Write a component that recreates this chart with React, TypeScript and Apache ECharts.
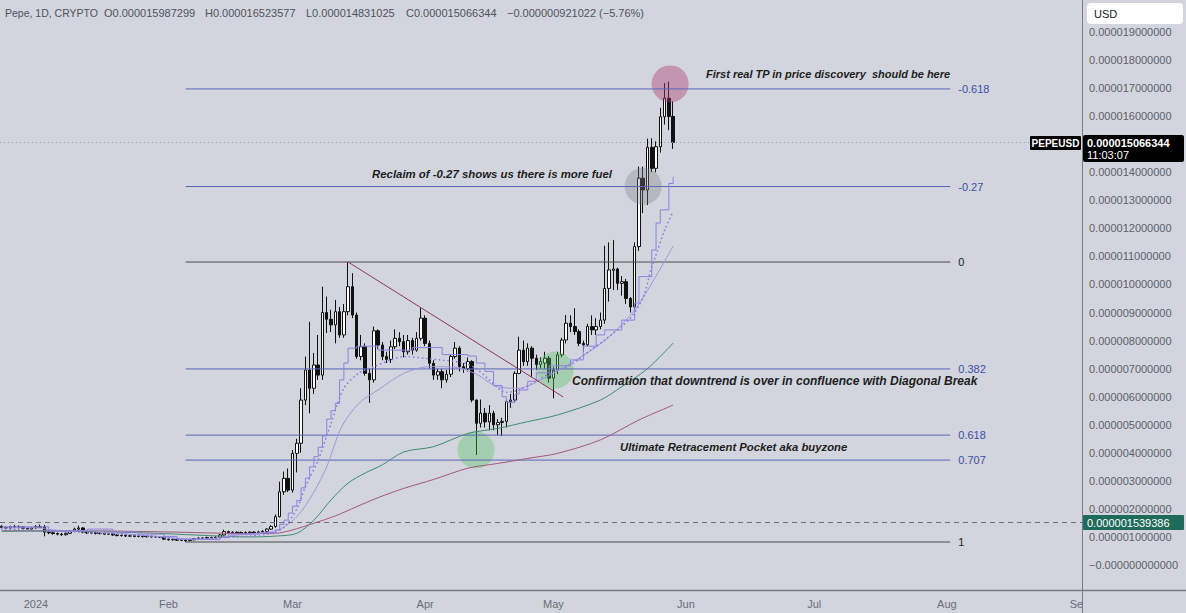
import React, { useEffect, useRef } from "react";
import * as echarts from "echarts";

const DAY = 86400000;
const JAN1 = Date.UTC(2024, 0, 1);
const t = (d: number) => JAN1 + d * DAY; // d = days from 2024-01-01
const FIRST_CANDLE_DAY = -8; // 2023-12-24

// Prices are in micro-USD (1 = 0.000001 USD). [open, close, low, high]
const ohlc: number[][] = [
  [1.38, 1.34, 1.31, 1.42], [1.34, 1.32, 1.28, 1.38], [1.32, 1.37, 1.29, 1.40], [1.37, 1.35, 1.31, 1.43],
  [1.35, 1.36, 1.30, 1.41], [1.36, 1.31, 1.28, 1.39], [1.31, 1.28, 1.25, 1.34], [1.28, 1.33, 1.25, 1.36],
  // 2024-01-01
  [1.33, 1.37, 1.29, 1.42], [1.37, 1.35, 1.32, 1.44], [1.35, 1.17, 1.02, 1.43], [1.17, 1.15, 1.10, 1.22],
  [1.15, 1.12, 1.08, 1.19], [1.12, 1.10, 1.06, 1.16], [1.10, 1.08, 1.04, 1.14], [1.08, 1.13, 1.05, 1.16],
  [1.13, 1.20, 1.10, 1.24], [1.20, 1.28, 1.17, 1.33], [1.28, 1.32, 1.22, 1.40], [1.32, 1.17, 1.13, 1.35],
  [1.16, 1.14, 1.11, 1.19], [1.14, 1.15, 1.11, 1.18], [1.15, 1.12, 1.09, 1.17], [1.12, 1.13, 1.09, 1.16],
  [1.13, 1.10, 1.07, 1.15], [1.10, 1.11, 1.07, 1.14], [1.11, 1.07, 1.04, 1.13], [1.07, 1.05, 1.02, 1.10],
  [1.05, 1.06, 1.01, 1.09], [1.06, 1.03, 1.00, 1.08], [1.03, 1.04, 1.00, 1.07], [1.04, 1.02, 0.99, 1.06],
  [1.02, 1.03, 0.99, 1.06], [1.03, 1.01, 0.98, 1.05], [1.01, 1.02, 0.98, 1.05], [1.02, 1.00, 0.97, 1.04],
  [1.00, 1.01, 0.97, 1.04], [1.01, 0.99, 0.96, 1.03], [0.99, 0.92, 0.90, 1.00],
  // 2024-02-01
  [0.92, 0.90, 0.87, 0.94], [0.90, 0.91, 0.87, 0.94], [0.91, 0.88, 0.86, 0.93], [0.88, 0.89, 0.85, 0.92],
  [0.89, 0.87, 0.82, 0.91], [0.87, 0.90, 0.85, 0.93], [0.90, 0.94, 0.88, 0.96], [0.94, 0.96, 0.92, 0.99],
  [0.96, 0.95, 0.93, 0.99], [0.95, 0.98, 0.93, 1.01], [0.98, 0.97, 0.94, 1.01], [0.97, 0.99, 0.95, 1.02],
  [0.99, 1.07, 0.97, 1.10], [1.07, 1.19, 1.05, 1.26], [1.19, 1.15, 1.12, 1.22], [1.15, 1.17, 1.13, 1.20],
  [1.17, 1.14, 1.12, 1.19], [1.14, 1.16, 1.12, 1.19], [1.16, 1.15, 1.12, 1.20], [1.15, 1.17, 1.13, 1.20],
  [1.17, 1.15, 1.12, 1.21], [1.15, 1.18, 1.13, 1.22], [1.18, 1.20, 1.15, 1.24], [1.20, 1.28, 1.17, 1.31],
  [1.28, 1.37, 1.25, 1.42], [1.37, 1.72, 1.33, 1.80], [1.72, 2.61, 1.70, 2.97], [2.61, 3.09, 2.50, 3.33],
  [3.09, 2.67, 2.60, 3.44],
  // 2024-03-01
  [2.67, 3.98, 2.58, 4.10], [3.98, 4.34, 3.30, 4.50], [4.34, 5.88, 4.00, 6.30], [5.88, 6.95, 5.70, 7.43],
  [6.95, 6.30, 5.41, 8.67], [6.30, 7.13, 6.10, 7.56], [7.13, 6.77, 6.60, 8.20], [6.77, 9.00, 6.60, 9.92],
  [9.00, 8.76, 8.27, 9.57], [8.76, 8.56, 8.30, 9.10], [8.56, 9.03, 7.90, 9.45], [9.03, 8.20, 8.10, 9.20],
  [8.20, 9.03, 8.10, 9.30], [9.03, 9.92, 8.90, 10.80], [9.92, 8.91, 8.80, 10.40], [8.91, 7.43, 7.35, 9.00],
  [7.43, 7.78, 7.30, 8.20], [7.78, 6.83, 6.75, 7.90], [6.83, 6.60, 5.78, 7.00], [6.60, 8.35, 6.50, 8.50],
  [8.35, 7.84, 7.70, 8.40], [7.84, 7.43, 7.30, 7.95], [7.43, 7.33, 7.20, 7.60], [7.33, 7.78, 7.20, 8.00],
  [7.78, 8.08, 7.70, 8.40], [8.08, 7.96, 7.80, 8.30], [7.96, 7.60, 7.40, 8.20], [7.60, 8.00, 7.50, 8.20],
  [8.00, 7.66, 7.50, 8.10], [7.66, 8.08, 7.60, 8.30], [8.08, 8.80, 8.00, 9.16],
  // 2024-04-01
  [8.80, 7.90, 7.80, 8.90], [7.90, 7.19, 7.00, 8.00], [7.19, 6.77, 6.60, 7.30], [6.77, 6.89, 6.60, 7.00],
  [6.89, 6.60, 6.30, 7.00], [6.60, 6.80, 6.50, 6.95], [6.80, 7.43, 6.70, 7.50], [7.43, 7.73, 7.35, 7.95],
  [7.73, 7.07, 6.90, 7.80], [7.07, 7.00, 6.85, 7.20], [7.00, 7.25, 6.90, 7.40], [7.25, 5.88, 5.80, 7.30],
  [5.88, 5.05, 3.92, 5.90], [5.05, 5.41, 4.90, 5.90], [5.41, 5.10, 4.90, 5.60], [5.10, 5.41, 4.80, 5.70],
  [5.41, 5.00, 4.80, 5.50], [5.00, 5.08, 4.63, 5.20], [5.08, 5.12, 4.60, 5.25], [5.12, 5.82, 4.90, 5.90],
  [5.82, 5.88, 5.60, 6.10], [5.88, 6.83, 5.80, 6.90], [6.83, 7.66, 6.80, 8.14], [7.66, 7.25, 7.10, 8.00],
  [7.25, 7.73, 7.10, 7.90], [7.73, 7.37, 6.71, 7.80], [7.37, 7.15, 6.95, 7.50], [7.15, 7.25, 7.00, 7.40],
  [7.20, 7.37, 7.00, 7.60], [7.37, 6.66, 6.50, 7.45],
  // 2024-05-01
  [6.66, 6.95, 5.94, 7.05], [6.95, 7.49, 6.80, 7.60], [7.49, 8.02, 7.40, 8.10], [8.02, 8.62, 7.90, 8.91],
  [8.62, 8.50, 8.30, 8.90], [8.50, 8.32, 8.20, 9.15], [8.32, 7.90, 7.80, 8.40], [7.90, 7.85, 7.60, 8.00],
  [7.85, 8.50, 7.80, 8.60], [8.50, 8.38, 8.20, 8.90], [8.38, 8.50, 8.20, 8.80], [8.50, 8.73, 8.40, 9.00],
  [8.73, 9.86, 8.60, 11.38], [9.86, 10.52, 9.39, 11.50], [10.50, 10.55, 9.80, 11.59], [10.55, 10.04, 9.80, 10.60],
  [10.04, 10.10, 9.60, 10.30], [10.10, 9.50, 9.30, 10.20], [9.50, 9.20, 9.00, 9.55], [9.20, 11.35, 9.10, 11.50],
  [11.35, 13.79, 11.20, 14.20], [13.79, 13.37, 12.54, 14.20], [13.37, 14.89, 12.83, 15.20], [14.89, 14.14, 14.00, 15.21],
  [14.14, 14.91, 14.00, 15.10], [14.91, 15.98, 14.70, 16.30], [15.98, 16.64, 15.70, 17.18], [16.64, 15.99, 15.50, 17.23],
  [15.987299, 15.066344, 14.831025, 16.523577],
];

// Indicator lines: [day from 2024-01-01, price]
const sma100Pts = [[-8, 1.22], [10, 1.22], [30, 1.18], [50, 1.12], [56, 1.13], [60, 1.25], [65, 1.49], [70, 1.75], [75, 2.08], [80, 2.40], [86, 2.73], [93, 3.05], [101, 3.45], [108, 3.62], [115, 3.80], [122, 3.98], [132, 4.46], [141, 5.17], [149, 5.70]];
const sma50Pts = [[-8, 1.20], [0, 1.21], [10, 1.20], [20, 1.17], [30, 1.12], [40, 1.05], [50, 1.00], [56, 1.03], [61, 1.13], [65, 1.60], [69, 2.32], [73, 2.92], [77, 3.28], [81, 3.57], [86, 4.03], [93, 4.22], [101, 4.69], [108, 4.87], [115, 5.11], [122, 5.35], [132, 5.88], [137, 6.36], [143, 7.00], [149, 7.91]];
const emaPts = [[-8, 1.32], [0, 1.33], [3, 1.27], [8, 1.20], [12, 1.22], [18, 1.15], [25, 1.06], [30, 1.00], [36, 0.92], [42, 0.95], [46, 1.05], [52, 1.13], [56, 1.22], [59, 1.45], [62, 1.90], [65, 2.60], [68, 3.50], [71.5, 4.93], [75.5, 5.76], [80, 6.24], [86, 6.83], [92, 7.07], [98, 7.05], [103, 6.80], [108, 6.35], [113, 6.30], [118, 6.60], [125, 7.19], [133, 8.00], [140, 9.09], [145, 10.30], [149, 11.37]];
const stepPts = [[-8, 1.36], [2, 1.36], [3, 1.22], [10, 1.22], [12, 1.28], [18, 1.18], [24, 1.10], [30, 1.02], [33, 0.92], [38, 0.90], [43, 0.98], [45, 1.10], [52, 1.15], [56, 1.25], [57, 1.45], [58, 1.60], [59, 1.85], [60, 2.10], [61, 2.30], [62, 2.75], [63, 3.10], [64, 3.50], [65, 3.86], [66, 4.20], [67, 4.60], [68, 5.20], [69, 5.50], [70, 5.76], [71, 6.60], [72, 7.20], [73, 7.73], [75, 7.80], [80, 7.66], [88, 7.75], [95, 7.50], [101, 7.45], [103, 7.20], [105, 6.90], [107, 6.40], [109, 6.00], [110, 5.80], [112, 6.10], [113, 6.24], [115, 6.55], [117, 6.85], [120, 7.10], [125, 7.31], [128, 7.80], [131, 8.20], [133, 8.38], [137, 8.73], [140, 9.34], [141, 10.28], [144, 11.23], [145, 12.19], [146, 12.66], [148, 13.60], [149, 13.84]];
const dotPts = [[-8, 1.28], [5, 1.20], [15, 1.14], [25, 1.05], [35, 0.92], [45, 0.98], [55, 1.12], [58, 1.35], [61, 2.00], [63, 2.79], [66, 3.74], [69, 5.05], [72, 6.30], [75.5, 6.84], [79, 7.07], [83, 7.31], [86, 7.43], [92, 7.35], [100, 7.20], [103, 7.00], [106, 6.60], [110, 6.15], [113, 6.25], [117, 6.55], [121, 6.90], [125, 7.13], [130, 7.70], [133, 8.02], [139, 8.80], [142, 9.55], [144, 10.64], [145, 11.05], [147, 11.94], [149, 12.60]];

const fibLevels = ["-0.618", "-0.27", "0", "0.382", "0.618", "0.707", "1"];
const fibPrices = [16.97, 13.49, 10.80, 6.99, 4.63, 3.74, 0.82];
const fibStartDay = 35;
const fibEndDay = 213.8;
const trendPts = [[73, 10.80], [123.3, 5.99]];
const circleDays = [148.3, 142, 121.4, 102.9];
const circlePrices = [17.15, 13.5, 6.95, 4.10];
const circleColors = ["rgba(176,52,112,0.5)", "rgba(128,128,140,0.42)", "rgba(80,195,95,0.45)", "rgba(80,195,95,0.45)"];
const lastPrice = 15.066344;
const priceLine2 = 1.539386;
const yTicks = [0, 1, 2, 3, 4, 5, 6, 7, 8, 9, 10, 11, 12, 13, 14, 15, 16, 17, 18, 19];
const MONTHS = ["Jan", "Feb", "Mar", "Apr", "May", "Jun", "Jul", "Aug", "Sep", "Oct", "Nov", "Dec"];

const BG = "#d2d5dd";
const FONT = '"Liberation Sans", Arial, sans-serif';

function txt(x: number, y: number, text: string, fill: string, font: string, align = "left") {
  return {
    type: "text", x, y, z: 100, silent: true,
    style: { text, fill, font, textAlign: align, textVerticalAlign: "middle", verticalAlign: "middle" },
  };
}

export default function App() {
  const ref = useRef<HTMLDivElement>(null);
  useEffect(() => {
    const chart = echarts.init(ref.current!, undefined, { renderer: "svg" });
    const toLine = (pts: number[][]) => pts.map((p) => [t(p[0]), p[1]]);
    const blue = "#5a66b6";
    const dark = "#4a4a4a";
    const fibSeries = fibLevels.map((lv, i) => {
      const isDark = lv === "0" || lv === "1";
      return {
        type: "line", silent: true, symbol: "none",
        data: [[t(fibStartDay), fibPrices[i]], [t(fibEndDay), fibPrices[i]]],
        lineStyle: { color: isDark ? dark : blue, width: 1 },
        endLabel: { show: true, formatter: lv, color: isDark ? "#222" : "#3d4ea8", fontSize: 11, distance: 8 },
      };
    });
    const lineS = (pts: number[][], color: string, extra: any = {}) => ({
      type: "line", silent: true, symbol: "none", data: toLine(pts),
      lineStyle: { color, width: 1 },
      ...extra,
    });
    const series: any[] = [
      ...fibSeries,
      lineS(sma100Pts, "#a3587a", { smooth: 0.3 }),
      lineS(sma50Pts, "#3f8c6e", { smooth: 0.3 }),
      lineS(emaPts, "#a496dc", { smooth: 0.3 }),
      { ...lineS(dotPts, "#8a7be0", { smooth: 0.3 }), lineStyle: { color: "#8a7be0", width: 1.7, type: [0.1, 4.2], cap: "round" } },
      { ...lineS(stepPts, "#8e80e0"), step: "end", lineStyle: { color: "#8e80e0", width: 1 } },
      lineS(trendPts, "#8b3a55"),
      {
        type: "candlestick", silent: true, barWidth: 3,
        encode: { x: 0, y: [1, 2, 3, 4] },
        data: ohlc.map((c, i) => [t(FIRST_CANDLE_DAY + i), c[0], c[1], c[2], c[3]]),
        itemStyle: { color: "#ffffff", color0: "#111111", borderColor: "#111111", borderColor0: "#111111", borderWidth: 1 },
        markLine: {
          silent: true, symbol: ["none", "none"], label: { show: false },
          data: [
            { yAxis: priceLine2, lineStyle: { color: "#6e717b", type: [5, 4], width: 1 } },
            { yAxis: lastPrice, lineStyle: { color: "#9a9da6", type: [1, 3], width: 1 } },
          ],
        },
      },
      {
        type: "scatter", silent: true, symbolSize: 37,
        data: circleDays.map((d, i) => ({ value: [t(d), circlePrices[i]], itemStyle: { color: circleColors[i] } })),
      },
    ];

    const annF = (s: number) => `italic bold ${s}px "Liberation Sans", Arial, sans-serif`;
    const hdr = '11px "Liberation Sans", Arial, sans-serif';
    const hc = "#50535e";
    const graphic: any[] = [
      txt(5, 13, "Pepe, 1D, CRYPTO", hc, '10.5px "Liberation Sans", Arial, sans-serif'),
      txt(104, 13, "O0.000015987299", hc, hdr),
      txt(205, 13, "H0.000016523577", hc, hdr),
      txt(306, 13, "L0.000014831025", hc, hdr),
      txt(406, 13, "C0.000015066344", hc, hdr),
      txt(507, 13, "−0.000000921022 (−5.76%)", hc, hdr),
      txt(706, 74, "First real TP in price discovery  should be here", "#1e1e1e", annF(11)),
      txt(372, 174, "Reclaim of -0.27 shows us there is more fuel", "#1e1e1e", annF(11.4)),
      txt(572, 381, "Confirmation that downtrend is over in confluence with Diagonal Break", "#1e1e1e", annF(12)),
      txt(620, 447, "Ultimate Retracement Pocket aka buyzone", "#1e1e1e", annF(11.3)),
      // price-scale region under the time axis
      { type: "rect", z: 99, silent: true, shape: { x: 1083, y: 591, width: 103, height: 22 }, style: { fill: BG } },
      { type: "line", z: 100, silent: true, shape: { x1: 1082.5, y1: 590, x2: 1082.5, y2: 613 }, style: { stroke: "#787b86", lineWidth: 1 } },
      { type: "line", z: 100, silent: true, shape: { x1: 0, y1: 590.5, x2: 1186, y2: 590.5 }, style: { stroke: "#787b86", lineWidth: 1.5 } },
      // USD box
      { type: "rect", z: 100, silent: true, shape: { x: 1087, y: 3, width: 96, height: 21, r: 4 }, style: { fill: "#ffffff" } },
      txt(1094, 13.5, "USD", "#131722", '11px "Liberation Sans", Arial, sans-serif'),
      // PEPEUSD tag
      { type: "rect", z: 100, silent: true, shape: { x: 1030, y: 136, width: 51, height: 14, r: 1 }, style: { fill: "#000000" } },
      txt(1055.5, 143, "PEPEUSD", "#ffffff", 'bold 10px "Liberation Sans", Arial, sans-serif', "center"),
      // last price tag
      { type: "rect", z: 100, silent: true, shape: { x: 1083, y: 135, width: 101, height: 27, r: 2 }, style: { fill: "#000000" } },
      txt(1087, 143, "0.000015066344", "#ffffff", 'bold 11px "Liberation Sans", Arial, sans-serif'),
      txt(1087, 155, "11:03:07", "#ffffff", '11px "Liberation Sans", Arial, sans-serif'),
      // second price line tag
      { type: "rect", z: 100, silent: true, shape: { x: 1083, y: 515, width: 101, height: 15, r: 1 }, style: { fill: "#1f6b5a" } },
      txt(1087, 522.5, "0.000001539386", "#ffffff", '11px "Liberation Sans", Arial, sans-serif'),
    ];

    chart.setOption({
      animation: false,
      useUTC: true,
      backgroundColor: BG,
      textStyle: { fontFamily: FONT },
      grid: { left: 0, right: 104, top: 0, bottom: 23, containLabel: false },
      xAxis: {
        type: "time",
        min: t(-8.4),
        max: t(244.6),
        minInterval: 28 * DAY,
        maxInterval: 31 * DAY,
        splitLine: { show: false },
        axisTick: { show: false },
        axisLine: { show: true, onZero: false, lineStyle: { color: "#787b86", width: 1 } },
        axisLabel: {
          color: "#6a6d78", fontSize: 11, margin: 8, hideOverlap: false,
          formatter: (v: number) => {
            const d = new Date(v);
            return d.getUTCMonth() === 0 ? String(d.getUTCFullYear()) : MONTHS[d.getUTCMonth()];
          },
        },
      },
      yAxis: {
        type: "value",
        position: "right",
        min: -0.891,
        max: 20.14,
        splitLine: { show: false },
        axisTick: { show: false },
        axisLine: { show: true, onZero: false, lineStyle: { color: "#787b86", width: 1 } },
        axisLabel: {
          customValues: yTicks,
          color: "#5d606b", fontSize: 11, margin: 7,
          formatter: (v: number) => (Math.abs(v) < 1e-9 ? "−0.000000000000" : (v / 1e6).toFixed(12)),
        },
      },
      series,
      graphic,
    });
    return () => chart.dispose();
  }, []);
  return <div ref={ref} style={{ position: "fixed", left: 0, top: 0, width: 1186, height: 613 }} />;
}
